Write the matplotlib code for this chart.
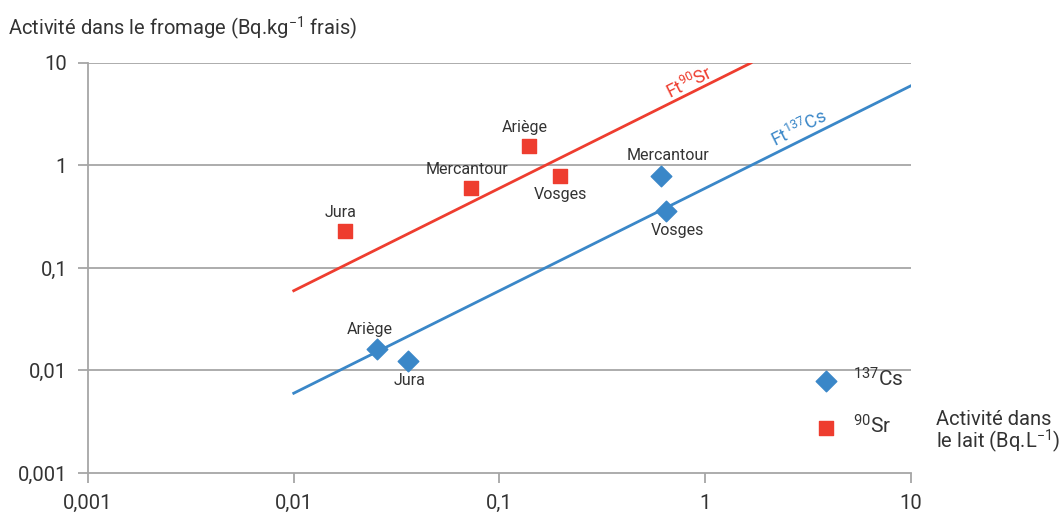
import matplotlib
matplotlib.use("Agg")
import matplotlib.pyplot as plt
import numpy as np
from matplotlib.ticker import FixedLocator, FixedFormatter

plt.rcParams['font.family'] = ['Roboto', 'DejaVu Sans']
plt.rcParams['mathtext.fontset'] = 'custom'
plt.rcParams['mathtext.rm'] = 'Roboto'
plt.rcParams['mathtext.default'] = 'regular'

# Sites
sr_sites = ["Jura", "Mercantour", "Ariège", "Vosges"]
cs_sites = ["Ariège", "Jura", "Mercantour", "Vosges"]

# 90Sr : activité lait (Bq/L) et fromage (Bq/kg frais)
sr_lait = [0.0177, 0.0726, 0.139, 0.197]
sr_fromage = [0.23, 0.60, 1.55, 0.79]

# 137Cs
cs_lait = [0.0254, 0.0359, 0.61, 0.644]
cs_fromage = [0.0162, 0.0124, 0.79, 0.36]

# facteurs de transfert (fromage / lait)
ft_sr = 6.0
ft_cs = 0.6

ticks = [0.001, 0.01, 0.1, 1, 10]
tick_labels = ["0,001", "0,01", "0,1", "1", "10"]

RED = "#ee3d2f"
BLUE = "#3a87c8"
TXT = "#333333"
GRID = "#a6a6a6"

fig = plt.figure(figsize=(10.64, 5.15), dpi=100)
ax = fig.add_axes([0.0827, 0.0816, 0.7735, 0.7961])
ax.set_xscale("log")
ax.set_yscale("log")
ax.set_xlim(0.001, 10)
ax.set_ylim(0.001, 10)

for y in ticks[1:]:
    ax.axhline(y, color=GRID, lw=1.3, zorder=0)

# droites de transfert
x_sr = np.array([0.01, 10 / ft_sr])
ax.plot(x_sr, ft_sr * x_sr, color=RED, lw=2, zorder=2)
x_cs = np.array([0.01, 10])
ax.plot(x_cs, ft_cs * x_cs, color=BLUE, lw=2, zorder=2)

ax.text(0.88, ft_sr * 0.88, "Ft$^{90}$Sr", color=RED, fontsize=13, rotation=26.5,
        rotation_mode="anchor", ha="center", va="bottom")
ax.text(3.0, ft_cs * 3.0 * 1.04, "Ft$^{137}$Cs", color=BLUE, fontsize=13, rotation=26.5,
        rotation_mode="anchor", ha="center", va="bottom")

ax.scatter(cs_lait, cs_fromage, marker="D", s=110, color=BLUE, zorder=3, label="$^{137}$Cs")
ax.scatter(sr_lait, sr_fromage, marker="s", s=95, color=RED, zorder=3, label="$^{90}$Sr")

# étiquettes des points (au-dessus / en dessous)
sr_pos = ["above", "above", "above", "below"]
cs_pos = ["above", "below", "above", "below"]
for name, x, y, p in zip(sr_sites, sr_lait, sr_fromage, sr_pos):
    dy = 8 if p == "above" else -8
    ax.annotate(name, (x, y), xytext=(-3 if p == "above" else 0, dy), textcoords="offset points",
                ha="center", va="bottom" if p == "above" else "top", fontsize=11.5, color=TXT)
for name, x, y, p in zip(cs_sites, cs_lait, cs_fromage, cs_pos):
    dy = 9 if p == "above" else -9
    dx = {"Ariège": -5, "Jura": 1, "Mercantour": 5, "Vosges": 8}[name]
    ax.annotate(name, (x, y), xytext=(dx, dy), textcoords="offset points",
                ha="center", va="bottom" if p == "above" else "top", fontsize=11.5, color=TXT)

ax.xaxis.set_major_locator(FixedLocator(ticks))
ax.xaxis.set_major_formatter(FixedFormatter(tick_labels))
ax.yaxis.set_major_locator(FixedLocator(ticks))
ax.yaxis.set_major_formatter(FixedFormatter(tick_labels))
ax.minorticks_off()
ax.tick_params(axis="both", colors=GRID, labelcolor=TXT, labelsize=14.5, length=7, width=1.3)
ax.tick_params(axis="x", pad=8)
ax.tick_params(axis="y", pad=8)

for side in ["top", "right"]:
    ax.spines[side].set_visible(False)
for side in ["left", "bottom"]:
    ax.spines[side].set_color(GRID)
    ax.spines[side].set_linewidth(1.3)

leg = ax.legend(loc="upper left", bbox_to_anchor=(0.861, 0.278), frameon=False, fontsize=15,
                labelspacing=1.15, handletextpad=0.3, borderaxespad=0, labelcolor=TXT)

fig.text(0.0075, 0.945, "Activité dans le fromage (Bq.kg$^{-1}$ frais)", fontsize=14.5,
         color=TXT, va="center", ha="left")
fig.text(0.880, 0.16, "Activité dans\nle lait (Bq.L$^{-1}$)", fontsize=14.5, color=TXT,
         va="center", ha="left", linespacing=0.95)

fig.savefig("out.png", dpi=100)
